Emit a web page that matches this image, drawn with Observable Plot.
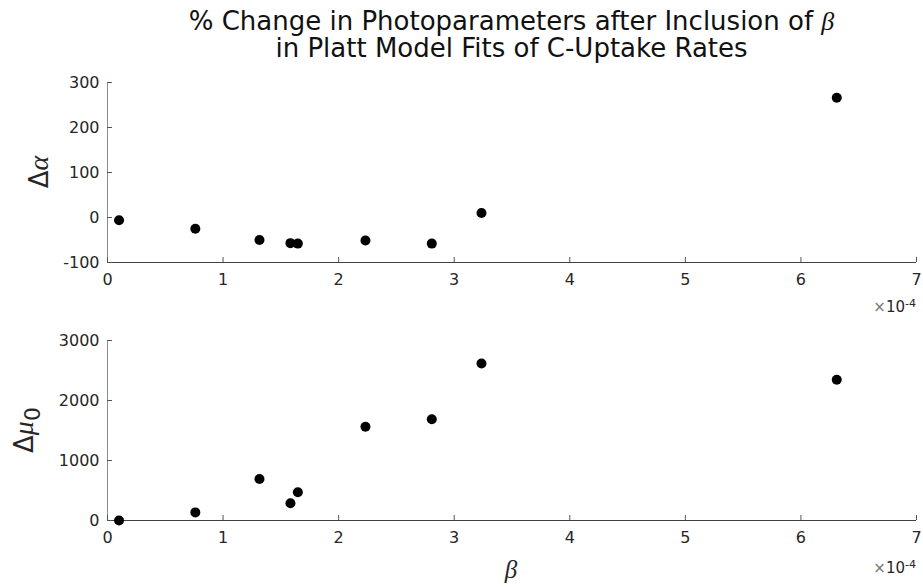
<!DOCTYPE html>
<html>
<head>
<meta charset="utf-8">
<script src="https://cdn.jsdelivr.net/npm/d3@7"></script>
<script src="https://cdn.jsdelivr.net/npm/@observablehq/plot@0.6"></script>
<style>
  body { margin: 0; background: #fff; font-family: "DejaVu Sans", sans-serif; }
  #fig { position: relative; width: 923px; height: 587px; overflow: hidden; }
  #title { position: absolute; left: 100px; width: 823px; top: 8px; text-align: center;
           font-size: 26px; line-height: 27px; color: #111; white-space: nowrap; }
  .tex { font-family: "Liberation Serif", serif; font-style: italic; }
  .panel { position: absolute; left: 0; }
</style>
</head>
<body>
<div id="fig">
  <div id="title"></div>
</div>
<script>
// beta (in units of 1e-4) and the % change of each photoparameter
const betaE4 = [0.10, 0.76, 1.315, 1.583, 1.647, 2.232, 2.806, 3.236, 6.31];
const dAlpha = [-6, -25, -50, -57, -58, -51, -58, 10, 266];
const dMu0 = [0, 135, 693, 288, 472, 1562, 1688, 2617, 2345];

const xTicks = [0, 1, 2, 3, 4, 5, 6, 7];
const alphaTicks = [-100, 0, 100, 200, 300];
const mu0Ticks = [0, 1000, 2000, 3000];

const titleLine1 = "% Change in Photoparameters after Inclusion of ";
const titleSymbol = "β";
const titleLine2 = "in Platt Model Fits of C-Uptake Rates";

// title
const title = d3.select("#title");
const l1 = title.append("div");
l1.append("span").text(titleLine1);
l1.append("span").attr("class", "tex").text(titleSymbol);
title.append("div").text(titleLine2);

const plain = d => String(d);
const axisStyle = { fill: "#262626", stroke: "#555", fontSize: 16, tickFormat: plain };

function panel({ values, yDomain, yTicks, height, top, exponentY, yLabel, labelX, xLabel }) {
  const rows = betaE4.map((b, i) => ({ beta: b, value: values[i] }));
  const marginTop = 20;
  const plot = Plot.plot({
    width: 923,
    height,
    marginLeft: 107,
    marginRight: 7,
    marginTop,
    marginBottom: height - marginTop - 180,
    style: { fontFamily: "DejaVu Sans, sans-serif", fontSize: "16px", color: "#262626", overflow: "visible", background: "transparent" },
    x: { domain: [0, 7] },
    y: { domain: yDomain },
    marks: [
      Plot.ruleX([0], { stroke: "#8c8c8c" }),
      Plot.ruleY([yDomain[0]], { stroke: "#404040" }),
      Plot.axisX(xTicks, { ...axisStyle, tickSize: -5, tickPadding: 16, label: null }),
      Plot.axisY(yTicks, { ...axisStyle, tickSize: -5, tickPadding: 13, label: null }),
      Plot.dot(rows, { x: "beta", y: "value", r: 5, fill: "#000", stroke: "none" })
    ]
  });
  plot.classList.add("panel");
  plot.style.top = top + "px";
  document.getElementById("fig").appendChild(plot);

  const svg = d3.select(plot);
  const yMid = marginTop + 90;

  // exponent label of the beta axis
  const ex = svg.append("text")
    .attr("x", 916).attr("y", exponentY)
    .attr("text-anchor", "end")
    .attr("fill", "#262626")
    .style("font-family", "DejaVu Sans, sans-serif")
    .style("font-size", "15px");
  ex.append("tspan").attr("fill", "#777").text("×");
  ex.append("tspan").text("10");
  ex.append("tspan").attr("dy", "-0.5em").style("font-size", "11px").text("-4");

  // y label
  const yl = svg.append("text")
    .attr("transform", `translate(${labelX},${yMid}) rotate(-90)`)
    .attr("text-anchor", "middle")
    .attr("fill", "#262626")
    .style("font-family", "DejaVu Sans, sans-serif")
    .style("font-size", "26px");
  yLabel.forEach(part => {
    const t = yl.append("tspan").text(part.text);
    if (part.tex) t.style("font-family", "Liberation Serif, serif").style("font-style", "italic").style("font-size", "28px");
    if (part.sub) t.attr("dy", "0.3em").style("font-size", "22px");
  });

  if (xLabel) {
    svg.append("text")
      .attr("x", 511).attr("y", 258)
      .attr("text-anchor", "middle")
      .attr("fill", "#262626")
      .style("font-family", "Liberation Serif, serif")
      .style("font-style", "italic")
      .style("font-size", "25px")
      .text(xLabel);
  }
  return plot;
}

panel({
  values: dAlpha, yDomain: [-100, 300], yTicks: alphaTicks,
  height: 258, top: 62, exponentY: 250, labelX: 48,
  yLabel: [{ text: "Δ" }, { text: "α", tex: true }]
});

panel({
  values: dMu0, yDomain: [0, 3000], yTicks: mu0Ticks,
  height: 267, top: 320, exponentY: 253, labelX: 33,
  yLabel: [{ text: "Δ" }, { text: "μ", tex: true }, { text: "0", sub: true }],
  xLabel: "β"
});
</script>
</body>
</html>
